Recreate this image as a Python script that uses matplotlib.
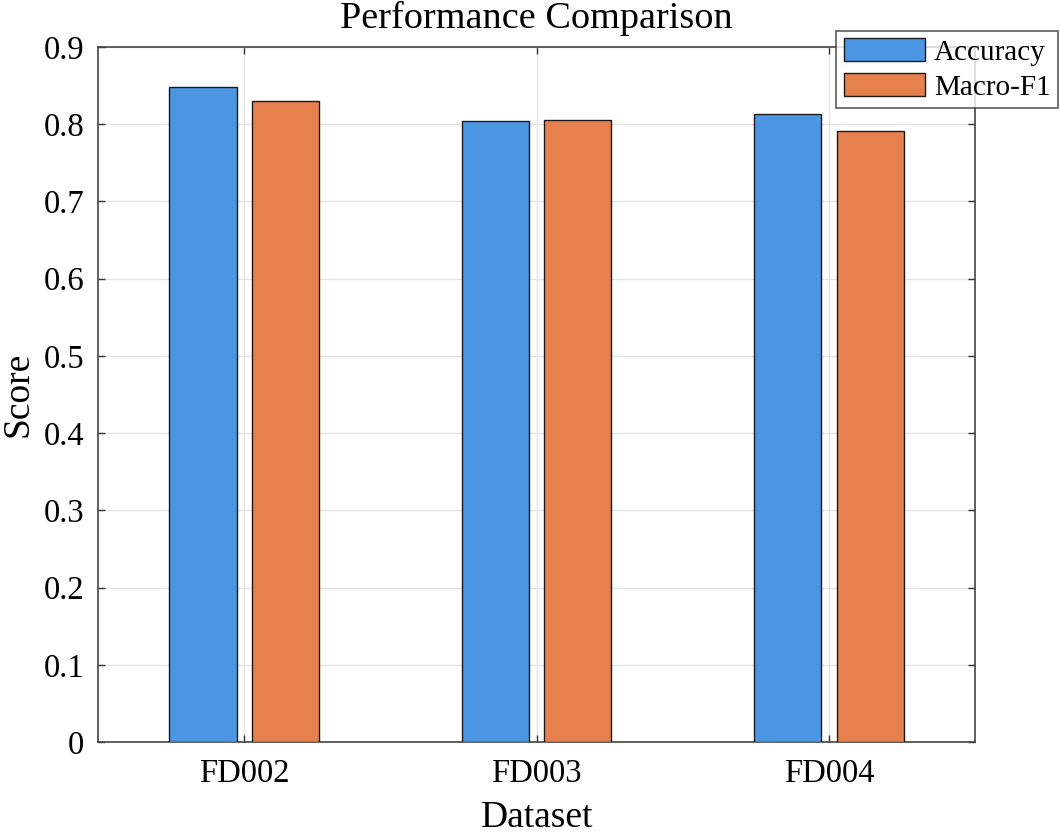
import numpy as np
import matplotlib.pyplot as plt

# Data
datasets = ['FD002', 'FD003', 'FD004']
accuracy = [0.848, 0.804, 0.813]
macro_f1 = [0.830, 0.806, 0.791]

plt.rcParams['font.family'] = ['Liberation Serif', 'DejaVu Serif']

fig = plt.figure(figsize=(10.6, 8.34), dpi=100)
ax = fig.add_axes([0.0925, 0.1103, 0.8275, 0.8333])

x = np.arange(1, len(datasets) + 1)
w = 0.23
off = 0.141
ax.bar(x - off, accuracy, w, color='#4A96E2', edgecolor='#1a1a1a', linewidth=1.0,
       label='Accuracy', zorder=3)
ax.bar(x + off, macro_f1, w, color='#E6814E', edgecolor='#1a1a1a', linewidth=1.0,
       label='Macro-F1', zorder=3)

ax.set_xlim(0.5, 3.5)
ax.set_ylim(0, 0.9)
ax.set_xticks(x)
ax.set_xticklabels(datasets)
ax.set_yticks(np.arange(0, 0.91, 0.1))
ax.set_yticklabels(['0'] + [f'{v:.1f}' for v in np.arange(0.1, 0.91, 0.1)])
ax.tick_params(direction='in', top=True, right=True, labelsize=23.5, length=5,
               width=1, colors='#333333', labelcolor='black')
ax.tick_params(axis='x', pad=12)
ax.tick_params(axis='y', pad=10)

ax.grid(True, color='#e3e3e3', linewidth=1.0, zorder=0)
ax.set_axisbelow(True)
for s in ax.spines.values():
    s.set_color('#444444')
    s.set_linewidth(1.2)

ax.set_title('Performance Comparison', fontsize=27.5, pad=14)
ax.set_xlabel('Dataset', fontsize=27, labelpad=8)
ax.set_ylabel('Score', fontsize=27)
ax.yaxis.set_label_coords(-0.071, 0.5)

leg = fig.legend(loc='upper right', bbox_to_anchor=(0.998, 0.963), fontsize=21,
                 frameon=True, fancybox=False, edgecolor='#333333',
                 handlelength=2.8, handleheight=0.85, handletextpad=0.3,
                 borderpad=0.25, labelspacing=0.25, borderaxespad=0)
leg.get_frame().set_linewidth(1.2)

plt.savefig('out.png', dpi=100)
